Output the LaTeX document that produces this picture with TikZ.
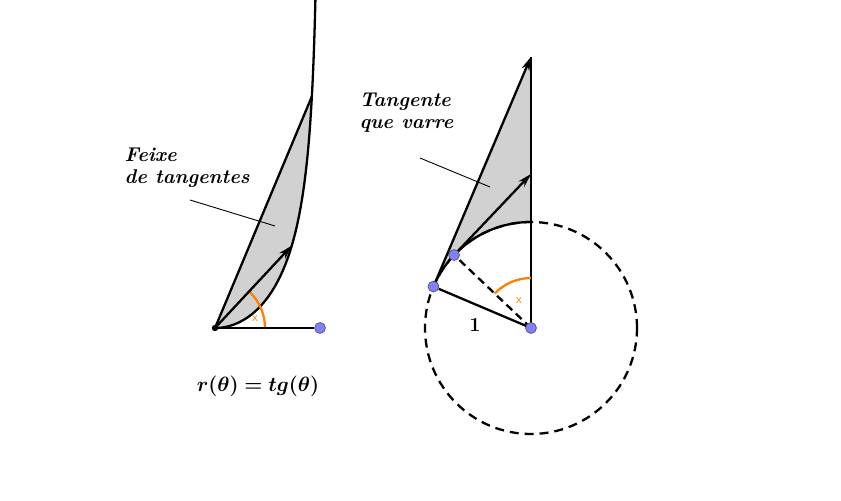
\documentclass[tikz,border=0pt]{standalone}
\usepackage{amsmath,bm}
\usetikzlibrary{arrows.meta}
\begin{document}
\begin{tikzpicture}[x=1bp,y=1bp,
  thick line/.style={line width=2.3pt},
  vec/.style={line width=2.3pt,-{Stealth[length=14pt,width=8pt]}},
  pt/.style={circle,draw=black!70,fill=blue!50!white,inner sep=0pt,minimum size=11pt,line width=0.6pt},
  ang/.style={orange,line width=2.3pt},
  lab/.style={font=\fontsize{20}{22}\selectfont\bfseries\itshape,align=left,anchor=west},
  shade/.style={fill=black!18}]
\useasboundingbox (0,0) rectangle (841,501);
% ---- left figure
\coordinate (O) at (215,173);
\coordinate (Q) at ({215+105*sin(67.3)},{173+105*sin(67.3)*tan(67.3)});
\coordinate (V) at ({215+105*sin(47)},{173+105*sin(47)*tan(47)});
\fill[shade] (O) -- (Q) -- plot[domain=67.3:0.5,samples=60,smooth] ({215+105*sin(\x)},{173+105*sin(\x)*tan(\x)}) -- cycle;
\draw[thick line] plot[domain=0:73,samples=100,smooth] ({215+105*sin(\x)},{173+105*sin(\x)*tan(\x)});
\draw[thick line] (O) -- (Q);
\draw[ang] (265,173) arc[start angle=0,end angle=47,radius=50];
\node[orange,font=\sffamily\fontsize{13}{14}\selectfont] (lx) at (255,182) {x};
\draw[vec] (O) -- (V);
\node[pt] (P) at (320,173) {};
\draw[thick line] (O) -- (P);
\fill (O) circle (3.2);
\node[lab] (t1) at (121,333) {Feixe\\de tangentes};
\coordinate (t1a) at (190,301); \coordinate (t1b) at (275,275);
\draw[line width=0.9pt] (t1a) -- (t1b);
\node[font=\fontsize{20}{24}\selectfont] (f) at (258,115) {$\bm{r(\theta)=tg(\theta)}$};
% ---- right figure
\coordinate (C) at (531,173);
\coordinate (A) at ({531+106*cos(157)},{173+106*sin(157)});
\coordinate (B) at ({531+106*cos(136.5)},{173+106*sin(136.5)});
\coordinate (T1) at (531,{173+106/cos(67)});
\coordinate (T2) at (531,{173+106/cos(46.5)});
\fill[shade] (A) -- (T1) -- (531,279) arc[start angle=90,end angle=157,radius=106] -- cycle;
\draw[line width=2.3pt,dash pattern=on 9pt off 6pt] (C) circle (106);
\draw[thick line] (531,279) arc[start angle=90,end angle=157,radius=106];
\draw[thick line] (C) -- (T1);
\draw[vec] (A) -- (T1);
\draw[vec] (B) -- (T2);
\draw[thick line,dash pattern=on 8pt off 5pt] (C) -- (B);
\draw[ang] (531,223) arc[start angle=90,end angle=136.5,radius=50];
\node[orange,font=\sffamily\fontsize{13}{14}\selectfont] (rx) at (519,200) {x};
\node[pt] (Ap) at (A) {};
\draw[thick line] (C) -- (Ap);
\node[pt] (Bp) at (B) {};
\node[pt] (Cp) at (C) {};
\node[font=\fontsize{20}{24}\selectfont\bfseries] (one) at (475,176) {1};
\node[lab] (t2) at (356,388) {Tangente\\que varre};
\coordinate (t2a) at (420,343); \coordinate (t2b) at (490,314);
\draw[line width=0.9pt] (t2a) -- (t2b);
\end{tikzpicture}
\end{document}
